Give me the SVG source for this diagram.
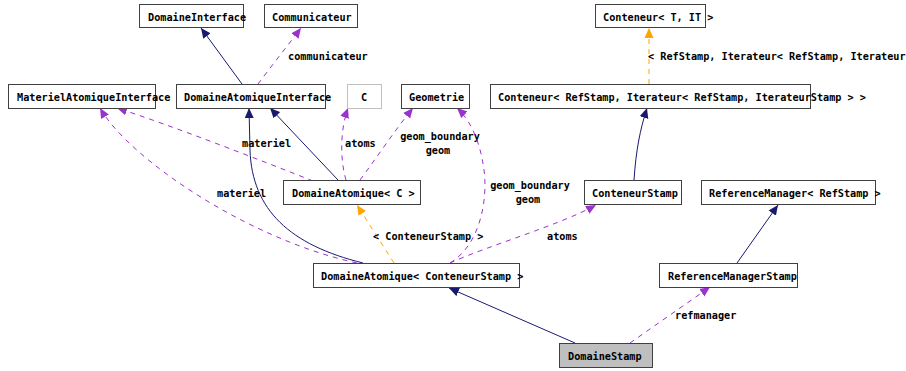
<svg xmlns="http://www.w3.org/2000/svg" width="906" height="371" viewBox="0 0 906 371">
<style>
text{font-family:"DejaVu Sans Mono","Liberation Mono",monospace;font-size:10.2px;font-weight:bold;fill:#000}
.box{fill:#fff;stroke:#404040;stroke-width:1}
.ghost{fill:#fff;stroke:#bfbfbf;stroke-width:1}
.main{fill:#bfbfbf;stroke:#404040;stroke-width:1}
.inh{fill:none;stroke:#191970;stroke-width:1}
.use{fill:none;stroke:#9a32cd;stroke-width:1;stroke-dasharray:5,5}
.tpl{fill:none;stroke:#ffa500;stroke-width:1;stroke-dasharray:5,5}
.mid{text-anchor:middle}
</style>
<defs>
<marker id="aN" markerUnits="userSpaceOnUse" markerWidth="11" markerHeight="10" refX="10" refY="5" orient="auto"><path d="M0,0.5 L10,5 L0,9.5 z" fill="#191970"/></marker>
<marker id="aP" markerUnits="userSpaceOnUse" markerWidth="11" markerHeight="10" refX="10" refY="5" orient="auto"><path d="M0,0.5 L10,5 L0,9.5 z" fill="#9a32cd"/></marker>
<marker id="aO" markerUnits="userSpaceOnUse" markerWidth="11" markerHeight="10" refX="10" refY="5" orient="auto"><path d="M0,0.5 L10,5 L0,9.5 z" fill="#ffa500"/></marker>
</defs>
<g id="connectors">
<path class="inh" d="M242,84 L201,28" marker-end="url(#aN)"/>
<path class="use" d="M258,84 C270,68 288,45 301,28" marker-end="url(#aP)"/>
<text x="288" y="60">communicateur</text>
<path class="use" d="M313,181 C260,160 170,125 117,108" marker-end="url(#aP)"/>
<text x="242" y="147">materiel</text>
<path class="use" d="M357,263 C250,240 130,160 100,108" marker-end="url(#aP)"/>
<text x="217" y="197">materiel</text>
<path class="inh" d="M338,180 L270,108" marker-end="url(#aN)"/>
<path class="inh" d="M363,263 C290,245 252,210 250,150 L249,108" marker-end="url(#aN)"/>
<path class="use" d="M346,180 C340,160 340,130 348,108" marker-end="url(#aP)"/>
<text x="345" y="147">atoms</text>
<path class="use" d="M360,180 C375,160 395,130 413,108" marker-end="url(#aP)"/>
<text class="mid" x="440" y="140">geom_boundary</text>
<text class="mid" x="438" y="154">geom</text>
<path class="use" d="M450,263 C480,245 488,200 484,170 C480,140 470,120 457,108" marker-end="url(#aP)"/>
<text class="mid" x="530" y="189">geom_boundary</text>
<text class="mid" x="528" y="203">geom</text>
<path class="use" d="M450,263 C490,245 560,225 596,205" marker-end="url(#aP)"/>
<text x="547" y="240">atoms</text>
<path class="tpl" d="M394,263 L357,205" marker-end="url(#aO)"/>
<text x="373" y="240">&lt; ConteneurStamp &gt;</text>
<path class="inh" d="M634,180 C636,150 640,130 647,108" marker-end="url(#aN)"/>
<path class="tpl" d="M649,84 L649,28" marker-end="url(#aO)"/>
<text x="648" y="60">&lt; RefStamp, Iterateur&lt; RefStamp, Iterateur</text>
<path class="inh" d="M737,263 L778,205" marker-end="url(#aN)"/>
<path class="inh" d="M575,343 L449,288" marker-end="url(#aN)"/>
<path class="use" d="M630,343 L710,287" marker-end="url(#aP)"/>
<text x="675" y="319">refmanager</text>
</g>
<g id="DomaineInterface"><rect class="box" x="139.5" y="4.5" width="104" height="23"/><text x="148" y="21">DomaineInterface</text></g>
<g id="Communicateur"><rect class="box" x="264.5" y="4.5" width="93" height="23"/><text x="272" y="21">Communicateur</text></g>
<g id="MaterielAtomiqueInterface"><rect class="box" x="8.5" y="84.5" width="147" height="24"/><text x="17" y="101">MaterielAtomiqueInterface</text></g>
<g id="DomaineAtomiqueInterface"><rect class="box" x="176.5" y="84.5" width="149" height="24"/><text x="184" y="101">DomaineAtomiqueInterface</text></g>
<g id="C"><rect class="ghost" x="347.5" y="84.5" width="34" height="24"/><text class="mid" x="364" y="101">C</text></g>
<g id="Geometrie"><rect class="box" x="401.5" y="84.5" width="68" height="24"/><text x="409" y="101">Geometrie</text></g>
<g id="ConteneurTIT"><rect class="box" x="595.5" y="4.5" width="110" height="23"/><text x="603" y="21">Conteneur&lt; T, IT &gt;</text></g>
<g id="ConteneurRefStamp"><rect class="box" x="490.5" y="84.5" width="320" height="24"/><text x="498" y="101">Conteneur&lt; RefStamp, Iterateur&lt; RefStamp, IterateurStamp &gt; &gt;</text></g>
<g id="DomaineAtomiqueC"><rect class="box" x="283.5" y="180.5" width="137" height="24"/><text x="292" y="197">DomaineAtomique&lt; C &gt;</text></g>
<g id="ConteneurStamp"><rect class="box" x="584.5" y="180.5" width="97" height="24"/><text x="592" y="197">ConteneurStamp</text></g>
<g id="ReferenceManagerRefStamp"><rect class="box" x="701.5" y="180.5" width="174" height="24"/><text x="709" y="197">ReferenceManager&lt; RefStamp &gt;</text></g>
<g id="DomaineAtomiqueConteneurStamp"><rect class="box" x="313.5" y="263.5" width="206" height="24"/><text x="321" y="280">DomaineAtomique&lt; ConteneurStamp &gt;</text></g>
<g id="ReferenceManagerStamp"><rect class="box" x="659.5" y="263.5" width="138" height="24"/><text x="668" y="280">ReferenceManagerStamp</text></g>
<g id="DomaineStamp"><rect class="main" x="559.5" y="343.5" width="93" height="24"/><text x="568" y="360">DomaineStamp</text></g>
</svg>
